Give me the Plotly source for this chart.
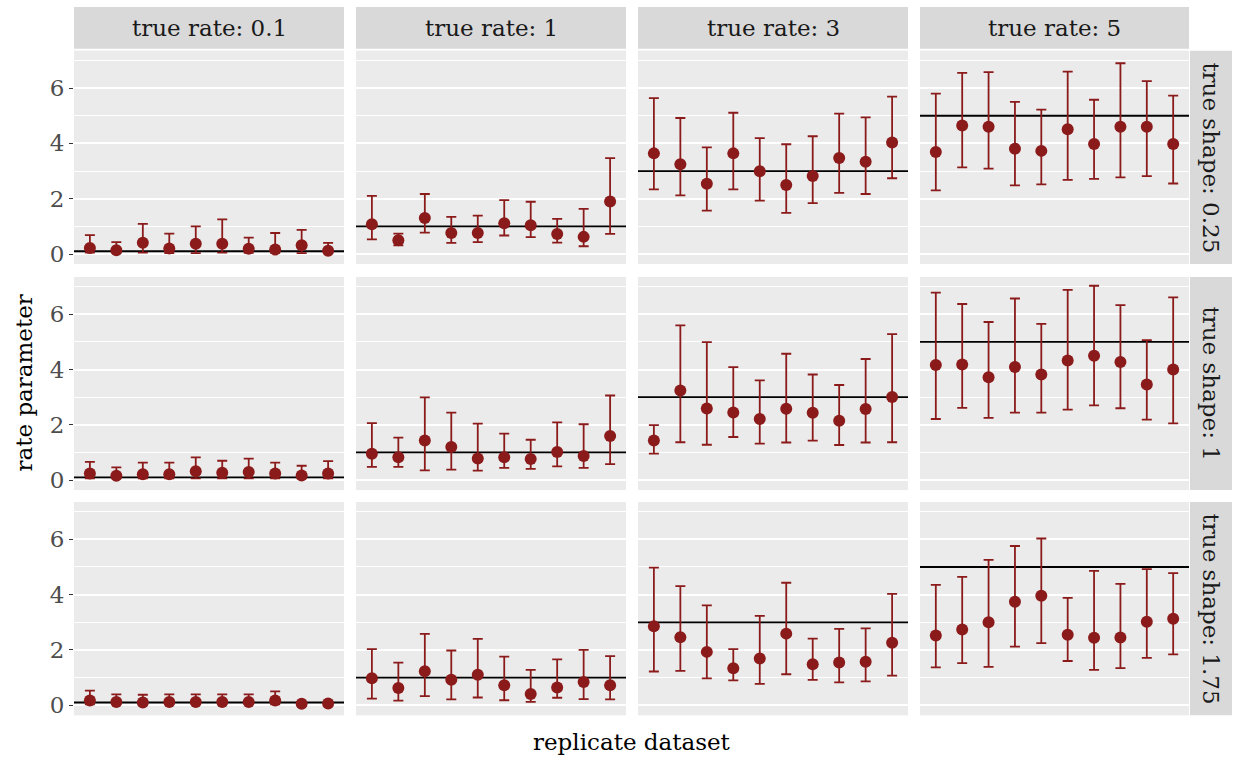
import plotly.graph_objects as go

W, H = 1236, 767
true_rates = [0.1, 1, 3, 5]
true_shapes = [0.25, 1, 1.75]
rate_labels = ["true rate: 0.1", "true rate: 1", "true rate: 3", "true rate: 5"]
shape_labels = ["true shape: 0.25", "true shape: 1", "true shape: 1.75"]
replicate = list(range(1, 11))

# estimates[row][col], upper[row][col], lower[row][col]
est = [
    [
        [0.22, 0.14, 0.41, 0.20, 0.37, 0.37, 0.19, 0.16, 0.32, 0.12],
        [1.08, 0.50, 1.30, 0.76, 0.76, 1.11, 1.04, 0.72, 0.62, 1.90],
        [3.64, 3.25, 2.54, 3.64, 2.99, 2.50, 2.82, 3.47, 3.34, 4.03],
        [3.69, 4.65, 4.60, 3.81, 3.73, 4.51, 3.98, 4.60, 4.60, 3.98],
    ],
    [
        [0.24, 0.16, 0.21, 0.21, 0.32, 0.27, 0.29, 0.24, 0.17, 0.24],
        [0.95, 0.83, 1.43, 1.20, 0.78, 0.83, 0.76, 1.02, 0.87, 1.60],
        [1.43, 3.24, 2.59, 2.45, 2.21, 2.58, 2.44, 2.15, 2.57, 3.01],
        [4.16, 4.18, 3.72, 4.09, 3.82, 4.33, 4.50, 4.27, 3.46, 4.00],
    ],
    [
        [0.17, 0.12, 0.10, 0.12, 0.12, 0.12, 0.12, 0.17, 0.05, 0.06],
        [0.98, 0.62, 1.23, 0.92, 1.10, 0.72, 0.41, 0.64, 0.84, 0.72],
        [2.86, 2.46, 1.93, 1.34, 1.69, 2.59, 1.48, 1.55, 1.57, 2.26],
        [2.52, 2.74, 3.00, 3.74, 3.96, 2.55, 2.44, 2.45, 3.02, 3.13],
    ],
]
upper = [
    [
        [0.68, 0.43, 1.09, 0.74, 1.00, 1.25, 0.59, 0.76, 0.87, 0.40],
        [2.10, 0.74, 2.17, 1.34, 1.39, 1.95, 1.89, 1.27, 1.63, 3.47],
        [5.64, 4.92, 3.86, 5.11, 4.19, 3.97, 4.26, 5.08, 4.94, 5.69],
        [5.80, 6.55, 6.58, 5.50, 5.22, 6.60, 5.58, 6.90, 6.25, 5.73],
    ],
    [
        [0.66, 0.46, 0.63, 0.63, 0.82, 0.70, 0.78, 0.63, 0.52, 0.69],
        [2.06, 1.54, 2.99, 2.44, 2.04, 1.68, 1.46, 2.09, 2.02, 3.06],
        [1.99, 5.60, 4.99, 4.09, 3.61, 4.57, 3.82, 3.44, 4.38, 5.28],
        [6.78, 6.37, 5.72, 6.57, 5.65, 6.88, 7.03, 6.33, 5.06, 6.61],
    ],
    [
        [0.53, 0.39, 0.38, 0.39, 0.39, 0.39, 0.39, 0.50, 0.12, 0.12],
        [2.03, 1.54, 2.58, 1.98, 2.40, 1.76, 1.28, 1.66, 2.00, 1.78],
        [4.98, 4.31, 3.61, 2.03, 3.23, 4.43, 2.41, 2.76, 2.78, 4.03],
        [4.35, 4.64, 5.26, 5.76, 6.03, 3.88, 4.86, 4.39, 4.92, 4.78],
    ],
]
lower = [
    [
        [0.05, 0.05, 0.05, 0.03, 0.03, 0.05, 0.04, 0.04, 0.03, 0.03],
        [0.53, 0.31, 0.77, 0.40, 0.43, 0.67, 0.61, 0.41, 0.28, 0.73],
        [2.34, 2.12, 1.57, 2.34, 1.93, 1.49, 1.84, 2.21, 2.17, 2.74],
        [2.30, 3.13, 3.09, 2.48, 2.52, 2.68, 2.72, 2.77, 2.82, 2.55],
    ],
    [
        [0.06, 0.06, 0.06, 0.06, 0.06, 0.06, 0.06, 0.06, 0.06, 0.06],
        [0.48, 0.48, 0.35, 0.38, 0.34, 0.44, 0.41, 0.50, 0.44, 0.58],
        [0.96, 1.37, 1.28, 1.56, 1.32, 1.36, 1.43, 1.27, 1.36, 1.37],
        [2.21, 2.61, 2.25, 2.44, 2.44, 2.55, 2.70, 2.60, 2.19, 2.05],
    ],
    [
        [0.03, 0.03, 0.03, 0.03, 0.03, 0.03, 0.03, 0.03, 0.01, 0.01],
        [0.24, 0.17, 0.33, 0.21, 0.28, 0.18, 0.12, 0.27, 0.22, 0.21],
        [1.22, 1.24, 0.97, 0.90, 0.77, 1.12, 0.92, 0.83, 0.86, 1.07],
        [1.37, 1.52, 1.39, 2.12, 2.25, 1.60, 1.28, 1.34, 1.71, 1.84],
    ],
]

RED = "#8B1A1A"
FONT = "DejaVu Serif, Liberation Serif, serif"
FS = 23

# pixel layout of panels
col_px = [(74, 344), (356, 626), (638, 908), (920, 1189)]
row_px = [(51, 265), (278, 492), (504, 718)]

def px_x(p):
    return p / W

def px_y(p):
    return 1 - p / H

fig = go.Figure()
layout = dict(
    width=W, height=H,
    margin=dict(l=0, r=0, t=0, b=0),
    paper_bgcolor="white",
    plot_bgcolor="#EBEBEB",
    showlegend=False,
    font=dict(family=FONT),
)
shapes = []
annotations = []

idx = 0
for r in range(3):
    for c in range(4):
        idx += 1
        xa = "xaxis" if idx == 1 else f"xaxis{idx}"
        ya = "yaxis" if idx == 1 else f"yaxis{idx}"
        xr = "x" if idx == 1 else f"x{idx}"
        yr = "y" if idx == 1 else f"y{idx}"
        x0, x1 = col_px[c]
        y0, y1 = row_px[r]
        layout[xa] = dict(
            domain=[px_x(x0), px_x(x1)], anchor=yr,
            range=[0.4, 10.6], showticklabels=False, ticks="",
            showgrid=False, zeroline=False, showline=False,
        )
        layout[ya] = dict(
            domain=[px_y(y1), px_y(y0)], anchor=xr,
            range=[-0.36, 7.35],
            tickvals=[0, 2, 4, 6], showticklabels=(c == 0),
            ticks="outside" if c == 0 else "", ticklen=4, tickwidth=1.1,
            tickcolor="#333333",
            tickfont=dict(family=FONT, size=FS, color="#4D4D4D"),
            showgrid=True, gridcolor="white", gridwidth=1.6,
            minor=dict(tickvals=[1, 3, 5, 7], showgrid=True,
                       gridcolor="white", gridwidth=0.8, ticks=""),
            zeroline=False, showline=False,
        )
        shapes.append(dict(type="rect", xref="paper", yref="paper",
                           x0=px_x(x0), x1=px_x(x1), y0=px_y(y1), y1=px_y(y0),
                           fillcolor="#EBEBEB", line=dict(width=0), layer="below"))
        # true rate line
        fig.add_trace(go.Scatter(
            x=[0.4, 10.6], y=[true_rates[c], true_rates[c]],
            mode="lines", line=dict(color="black", width=1.8),
            xaxis=xr, yaxis=yr, hoverinfo="skip",
        ))
        e = est[r][c]
        up = [u - v for u, v in zip(upper[r][c], e)]
        lo = [v - l for v, l in zip(e, lower[r][c])]
        fig.add_trace(go.Scatter(
            x=replicate, y=e, mode="markers",
            marker=dict(color=RED, size=12, line=dict(width=0)),
            error_y=dict(type="data", symmetric=False, array=up, arrayminus=lo,
                         color=RED, thickness=1.8, width=5),
            xaxis=xr, yaxis=yr,
        ))

# top strips
for c in range(4):
    x0, x1 = col_px[c]
    shapes.append(dict(type="rect", xref="paper", yref="paper",
                       x0=px_x(x0), x1=px_x(x1), y0=px_y(49), y1=px_y(7),
                       fillcolor="#D9D9D9", line=dict(width=0)))
    annotations.append(dict(text=rate_labels[c], xref="paper", yref="paper",
                            x=px_x((x0 + x1) / 2), y=px_y(28), showarrow=False,
                            font=dict(family=FONT, size=FS, color="#1A1A1A"),
                            xanchor="center", yanchor="middle"))
# right strips
for r in range(3):
    y0, y1 = row_px[r]
    shapes.append(dict(type="rect", xref="paper", yref="paper",
                       x0=px_x(1190), x1=px_x(1232), y0=px_y(y1), y1=px_y(y0),
                       fillcolor="#D9D9D9", line=dict(width=0)))
    annotations.append(dict(text=shape_labels[r], xref="paper", yref="paper",
                            x=px_x(1211), y=px_y((y0 + y1) / 2), showarrow=False,
                            textangle=90,
                            font=dict(family=FONT, size=FS, color="#1A1A1A"),
                            xanchor="center", yanchor="middle"))

annotations.append(dict(text="replicate dataset", xref="paper", yref="paper",
                        x=px_x((74 + 1189) / 2), y=px_y(745), showarrow=False,
                        font=dict(family=FONT, size=FS, color="black"),
                        xanchor="center", yanchor="middle"))
annotations.append(dict(text="rate parameter", xref="paper", yref="paper",
                        x=px_x(24), y=px_y(385), showarrow=False, textangle=-90,
                        font=dict(family=FONT, size=FS, color="black"),
                        xanchor="center", yanchor="middle"))

layout["shapes"] = shapes
layout["annotations"] = annotations
fig.update_layout(**layout)
fig.write_html("out.html")
